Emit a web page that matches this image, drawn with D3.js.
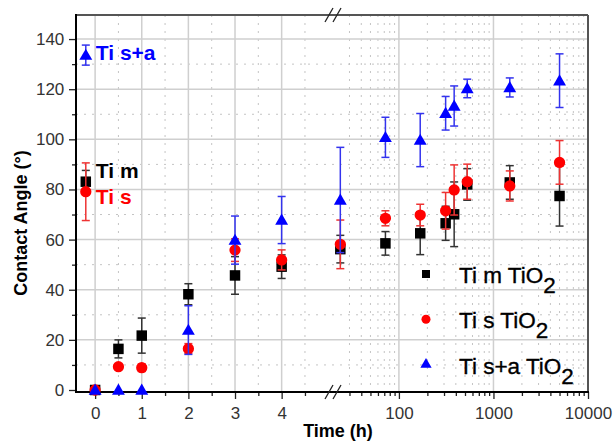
<!DOCTYPE html>
<html>
<head>
<meta charset="utf-8">
<script src="https://cdn.jsdelivr.net/npm/d3@7"></script>
<style>
  body { margin: 0; background: #fff; }
  text { font-family: Arial, "Liberation Sans", sans-serif; }
</style>
</head>
<body>
<div id="chart"></div>
<script>
// time points (h); values <= 5 sit on the linear part, the rest on the log part
const times = [0, 0.5, 1, 2, 3, 4, 24, 72, 168, 312, 384, 528, 1488, 5000];

const tiM     = [0, 16.4, 21.7, 38.2, 45.7, 49.2, 56.2, 58.5, 62.5, 66.5, 70.1, 82.0, 82.8, 77.4];
const tiMErr  = [0, 3.6, 7.0, 4.2, 7.5, 4.7, 5.5, 4.7, 8.5, 6.8, 12.9, 6.3, 6.7, 12.0];
const tiS     = [0, 9.3, 8.9, 16.5, 55.8, 51.9, 58.1, 68.5, 69.8, 71.5, 79.8, 83.1, 81.4, 90.8];
const tiSErr  = [0, 0.5, 1.5, 2.0, 4.5, 4.0, 9.7, 3.0, 4.3, 7.3, 10.0, 7.0, 6.0, 8.7];
const tiSA    = [0, 0, 0, 23.9, 59.8, 67.8, 75.8, 100.8, 99.7, 110.4, 113.3, 120.3, 120.7, 123.4];
const tiSAErr = [0, 0, 0, 9.7, 9.6, 9.4, 21.0, 8.0, 10.6, 6.7, 8.0, 3.7, 3.8, 10.7];

// untreated samples, plotted left of t = 0
const sampleNames = ['Ti m', 'Ti s', 'Ti s+a'];
const initialValues = [83.1, 79.1, 133.6];
const initialErr = [4.5, 11.5, 4.0];
const initialTime = -0.2;

const legendNames = ['Ti m TiO', 'Ti s TiO', 'Ti s+a TiO'];
const linTicks = [0, 1, 2, 3, 4];
const logTicks = [100, 1000, 10000];
const yTicks = [0, 20, 40, 60, 80, 100, 120, 140];

const width = 616, height = 445;
const pLeft = 76, pRight = 588, pTop = 15, pBottom = 392, brk = 332;

const svg = d3.select('#chart').append('svg')
    .attr('width', width)
    .attr('height', height);

const xLin = d3.scaleLinear().domain([-0.41, 5.08]).range([pLeft, brk]);
const xLog = d3.scaleLog().domain([19.6, 10000]).range([brk, pRight]);
const x = t => t <= 5 ? xLin(t) : xLog(t);
const y = d3.scaleLinear().domain([-0.8, 149.6]).range([pBottom, pTop]);

// minor positions
const linMinor = [0.5, 1.5, 2.5, 3.5, 4.5];
const logMinor = [];
[10, 100, 1000].forEach(d => { for (let k = 2; k <= 9; k++) if (d * k > 25) logMinor.push(d * k); });
const yMinor = d3.range(10, 150, 20);

const grid = svg.append('g');
// minor dotted grid
grid.selectAll('.vmin').data(linMinor.map(xLin).concat(logMinor.map(xLog)))
  .enter().append('line')
    .attr('x1', d => d).attr('x2', d => d).attr('y1', pTop).attr('y2', pBottom)
    .attr('stroke', '#c4c4c4').attr('stroke-width', 1).attr('stroke-dasharray', '2,6');
grid.selectAll('.hmin').data(yMinor)
  .enter().append('line')
    .attr('x1', pLeft).attr('x2', pRight).attr('y1', d => y(d)).attr('y2', d => y(d))
    .attr('stroke', '#c4c4c4').attr('stroke-width', 1).attr('stroke-dasharray', '2,6');
// major grid
grid.selectAll('.vmaj').data(linTicks.map(xLin).concat([100, 1000].map(xLog)))
  .enter().append('line')
    .attr('x1', d => d).attr('x2', d => d).attr('y1', pTop).attr('y2', pBottom)
    .attr('stroke', '#cfcfcf').attr('stroke-width', 1.5);
grid.selectAll('.hmaj').data(yTicks.slice(1))
  .enter().append('line')
    .attr('x1', pLeft).attr('x2', pRight).attr('y1', d => y(d)).attr('y2', d => y(d))
    .attr('stroke', '#cfcfcf').attr('stroke-width', 1.5);

// frame
svg.append('line').attr('x1', pLeft).attr('x2', pRight).attr('y1', pTop).attr('y2', pTop)
    .attr('stroke', '#555').attr('stroke-width', 2);
svg.append('line').attr('x1', pRight).attr('x2', pRight).attr('y1', pTop).attr('y2', pBottom)
    .attr('stroke', '#555').attr('stroke-width', 2);

// x axes (two pieces)
const axLin = d3.axisBottom(xLin).tickValues(linTicks).tickSize(7).tickFormat(d3.format('d'));
const axLinMinor = d3.axisBottom(xLin).tickValues(linMinor).tickSize(4).tickFormat('');
const axLog = d3.axisBottom(xLog).tickValues(logTicks).tickSize(7).tickFormat(d3.format('d'));
const axLogMinor = d3.axisBottom(xLog).tickValues(logMinor).tickSize(4).tickFormat('');
[axLinMinor, axLogMinor, axLin, axLog].forEach(a => {
  svg.append('g').attr('class', 'xaxis').attr('transform', `translate(0,${pBottom})`).call(a);
});
svg.append('line').attr('x1', pLeft - 1).attr('x2', pRight + 1).attr('y1', pBottom).attr('y2', pBottom)
    .attr('stroke', '#000').attr('stroke-width', 2);

// y axis
svg.append('g').attr('transform', `translate(${pLeft},0)`)
    .call(d3.axisLeft(y).tickValues(yMinor).tickSize(4).tickFormat(''));
svg.append('g').attr('class', 'yaxis').attr('transform', `translate(${pLeft},0)`)
    .call(d3.axisLeft(y).tickValues(yTicks).tickSize(7));
svg.append('line').attr('x1', pLeft).attr('x2', pLeft).attr('y1', pTop - 1).attr('y2', pBottom + 1)
    .attr('stroke', '#000').attr('stroke-width', 2);

svg.selectAll('.domain').remove();
svg.selectAll('.tick line').attr('stroke', '#222').attr('stroke-width', 1.3);
svg.selectAll('.xaxis .tick text').attr('font-size', 17).attr('fill', '#333').attr('dy', '1.0em');
svg.selectAll('.yaxis .tick text').attr('font-size', 17).attr('fill', '#333').attr('dx', '-0.1em');

// axis break marks
[pTop, pBottom].forEach(yy => {
  [-3, 5].forEach(off => {
    svg.append('line')
      .attr('x1', brk + off - 4).attr('y1', yy + 7)
      .attr('x2', brk + off + 4).attr('y2', yy - 7)
      .attr('stroke', '#222').attr('stroke-width', 1.3);
  });
});

// axis titles
svg.append('text').attr('x', 338).attr('y', 437).attr('text-anchor', 'middle')
    .attr('font-size', 18).attr('font-weight', 'bold').text('Time (h)');
svg.append('text').attr('transform', 'translate(27,223) rotate(-90)').attr('text-anchor', 'middle')
    .attr('font-size', 18).attr('font-weight', 'bold').text('Contact Angle (°)');

// symbols
const symbols = [d3.symbolSquare, d3.symbolCircle, d3.symbolTriangle];
const sizes = [110, 100, 72];
const legendSizes = [64, 64, 55];
const colors = ['#000000', '#ff0000', '#0000ff'];
const barColors = ['#333333', '#ee3333', '#3333ee'];

const seriesVals = [tiM, tiS, tiSA];
const seriesErr = [tiMErr, tiSErr, tiSAErr];

function drawPoints(g, pts, i) {
  const eb = g.append('g');
  pts.filter(p => p.e > 0).forEach(p => {
    const cx = x(p.t);
    eb.append('line').attr('x1', cx).attr('x2', cx).attr('y1', y(p.v - p.e)).attr('y2', y(p.v + p.e))
      .attr('stroke', barColors[i]).attr('stroke-width', 1.5);
    [p.v - p.e, p.v + p.e].forEach(v => {
      eb.append('line').attr('x1', cx - 4).attr('x2', cx + 4).attr('y1', y(v)).attr('y2', y(v))
        .attr('stroke', barColors[i]).attr('stroke-width', 1.5);
    });
  });
  g.selectAll('.pt').data(pts).enter().append('path')
    .attr('d', d3.symbol().type(symbols[i]).size(sizes[i]))
    .attr('transform', p => `translate(${x(p.t)},${y(p.v) + (i === 2 ? 1 : 0)})`)
    .attr('fill', colors[i]);
}

const plot = svg.append('g');
seriesVals.forEach((vals, i) => {
  const pts = times.map((t, j) => ({ t: t, v: vals[j], e: seriesErr[i][j] }));
  pts.push({ t: initialTime, v: initialValues[i], e: initialErr[i] });
  drawPoints(plot.append('g'), pts, i);
});

// sample labels next to the untreated points
const labelDy = [-4, 12, 5];
sampleNames.forEach((n, i) => {
  svg.append('text')
    .attr('x', x(initialTime) + 10)
    .attr('y', y(initialValues[i]) + labelDy[i])
    .attr('font-size', 21).attr('font-weight', 'bold')
    .attr('fill', colors[i]).text(n);
});

// legend
const legend = svg.append('g').attr('transform', 'translate(426,274)');
legendNames.forEach((n, i) => {
  const row = legend.append('g').attr('transform', `translate(0,${i * 45.3})`);
  row.append('path')
    .attr('d', d3.symbol().type(symbols[i]).size(legendSizes[i]))
    .attr('fill', colors[i]);
  const t = row.append('text').attr('x', 33).attr('y', 9).attr('font-size', 22.5).attr('fill', '#000')
    .attr('stroke', '#000').attr('stroke-width', 0.35);
  t.append('tspan').text(n);
  t.append('tspan').attr('dy', 10).text('2');
});
</script>
</body>
</html>
